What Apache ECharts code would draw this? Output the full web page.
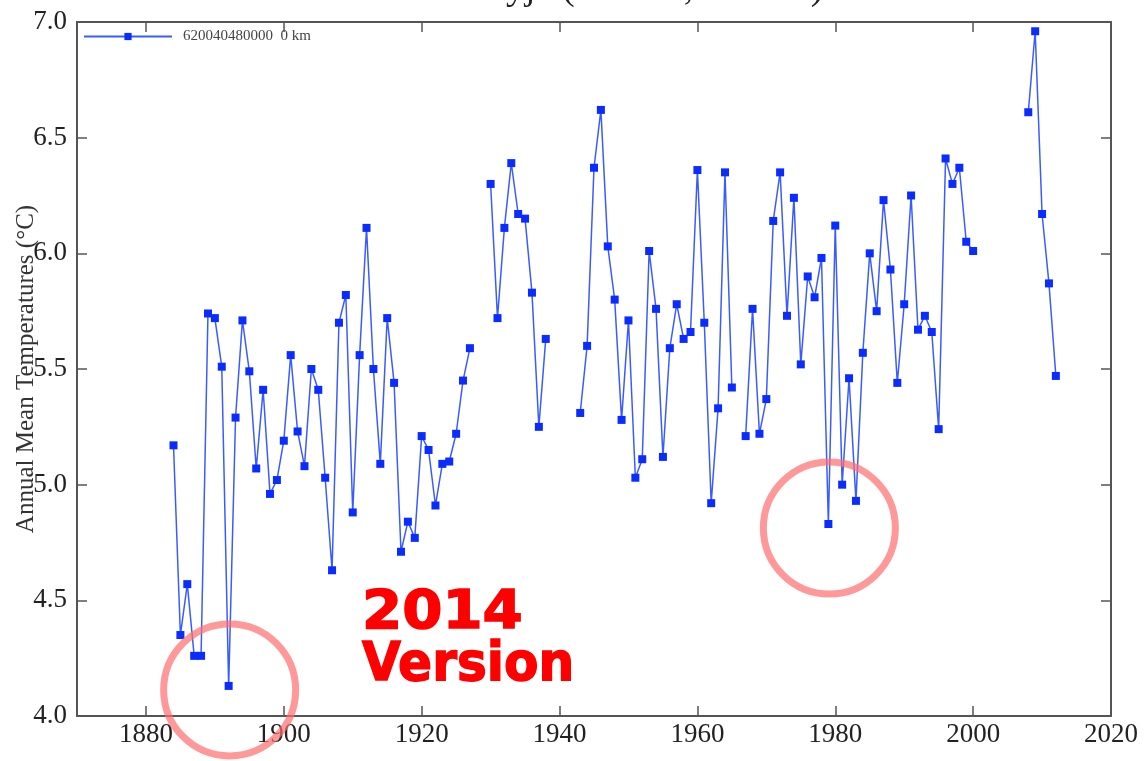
<!DOCTYPE html>
<html><head><meta charset="utf-8">
<script src="https://cdn.jsdelivr.net/npm/echarts@6/dist/echarts.min.js"></script>
<style>html,body{margin:0;padding:0;background:#fff}#c{width:1146px;height:761px}</style>
</head><body><div id="c"></div>
<script>
const title = 'Vestmannaeyja (63.4°N,20.3°W)';
const yLabel = 'Annual Mean Temperatures (°C)';
const seriesName = '620040480000  0 km';
const xTicks = [1880, 1900, 1920, 1940, 1960, 1980, 2000, 2020];
const years = [];
for (let y = 1884; y <= 2012; y++) years.push(y);
const temps = [
  5.17,4.35,4.57,4.26,4.26,5.74,5.72,5.51,4.13,5.29,5.71,5.49,5.07,5.41,4.96,5.02, // 1884-1899
  5.19,5.56,5.23,5.08,5.50,5.41,5.03,4.63,5.70,5.82, // 1900-1909
  4.88,5.56,6.11,5.50,5.09,5.72,5.44,4.71,4.84,4.77, // 1910-1919
  5.21,5.15,4.91,5.09,5.10,5.22,5.45,5.59,null,null, // 1920-1929
  6.30,5.72,6.11,6.39,6.17,6.15,5.83,5.25,5.63,null, // 1930-1939
  null,null,null,5.31,5.60,6.37,6.62,6.03,5.80,5.28, // 1940-1949
  5.71,5.03,5.11,6.01,5.76,5.12,5.59,5.78,5.63,5.66, // 1950-1959
  6.36,5.70,4.92,5.33,6.35,5.42,null,5.21,5.76,5.22, // 1960-1969
  5.37,6.14,6.35,5.73,6.24,5.52,5.90,5.81,5.98,4.83, // 1970-1979
  6.12,5.00,5.46,4.93,5.57,6.00,5.75,6.23,5.93,5.44, // 1980-1989
  5.78,6.25,5.67,5.73,5.66,5.24,6.41,6.30,6.37,6.05, // 1990-1999
  6.01,null,null,null,null,null,null,null,6.61,6.96, // 2000-2009
  6.17,5.87,5.47 // 2010-2012
];
const circleYears = [1892, 1979];
const annoLines = ['2014', 'Version'];

const data = years.map((y, i) => [y, temps[i] == null ? '-' : temps[i]]);
const chart = echarts.init(document.getElementById('c'));
const axisCol = '#555';
const serif = 'Liberation Serif';
const xAxisBase = { type: 'value', min: 1870, max: 2020, interval: 10, splitLine: { show: false } };
const option = {
  animation: false,
  backgroundColor: '#fff',
  title: { text: title, left: 'center', top: -35, textStyle: { fontFamily: serif, fontSize: 38, fontWeight: 'normal', color: '#222' } },
  grid: { left: 77, right: 35, top: 22, bottom: 45, containLabel: false, outerBoundsMode: 'none' },
  legend: { show: true, left: 78, top: 24, itemWidth: 88, itemHeight: 9, itemGap: 5,
    textStyle: { fontFamily: serif, fontSize: 15, color: '#444', padding: [0, 0, 0, 6] },
    data: [{ name: seriesName }] },
  xAxis: [
    Object.assign({}, xAxisBase, { position: 'bottom',
      axisLine: { lineStyle: { color: axisCol, width: 2 } },
      axisTick: { inside: true, length: 10, customValues: xTicks, lineStyle: { color: axisCol, width: 1.5 } },
      axisLabel: { fontFamily: serif, fontSize: 27, color: '#222', margin: 5, customValues: xTicks,
        formatter: v => String(v) } }),
    Object.assign({}, xAxisBase, { position: 'top',
      axisLine: { show: true, lineStyle: { color: axisCol, width: 2 } },
      axisTick: { inside: true, length: 10, customValues: xTicks, lineStyle: { color: axisCol, width: 1.5 } },
      axisLabel: { show: false } })
  ],
  yAxis: [
    { type: 'value', min: 4.0, max: 7.0, interval: 0.5, position: 'left',
      name: yLabel, nameLocation: 'middle', nameGap: 38, nameRotate: 90, nameMoveOverlap: false,
      nameTextStyle: { fontFamily: serif, fontSize: 25, color: '#333' },
      axisLine: { show: true, lineStyle: { color: axisCol, width: 2 } },
      axisTick: { inside: true, length: 10, lineStyle: { color: axisCol, width: 1.5 } },
      axisLabel: { fontFamily: serif, fontSize: 27, color: '#222', margin: 10, formatter: v => v.toFixed(1) },
      splitLine: { show: false } },
    { type: 'value', min: 4.0, max: 7.0, interval: 0.5, position: 'right',
      axisLine: { show: true, lineStyle: { color: axisCol, width: 2 } },
      axisTick: { inside: true, length: 10, lineStyle: { color: axisCol, width: 1.5 } },
      axisLabel: { show: false }, splitLine: { show: false } }
  ],
  series: [{
    name: seriesName, type: 'line', data: data, connectNulls: false,
    symbol: 'rect', symbolSize: 8,
    lineStyle: { color: '#3a5cff', width: 1.5 },
    itemStyle: { color: '#0a2cff' }
  }]
};
chart.setOption(option);

function drawAnno() {
  const g = [];
  circleYears.forEach(yr => {
    const i = years.indexOf(yr);
    const p = chart.convertToPixel({ gridIndex: 0 }, [yr, temps[i]]);
    g.push({ type: 'circle', shape: { cx: p[0] + 1, cy: p[1] + 4, r: 66 },
      style: { fill: 'none', stroke: 'rgba(255,110,110,0.7)', lineWidth: 7 }, z: 100 });
  });
  annoLines.forEach((t, k) => {
    g.push({ type: 'text', x: 362, y: 641 + k * 52, scaleX: k === 0 ? 1.07 : 0.93, originX: 0, originY: 0,
      style: { text: t, fill: '#ff0000', font: 'bold 54px "DejaVu Sans"', textAlign: 'left', textVerticalAlign: 'bottom',
        stroke: '#ff0000', lineWidth: 1.5 }, z: 100 });
  });
  chart.setOption({ graphic: g });
}
drawAnno();
</script>
</body></html>
